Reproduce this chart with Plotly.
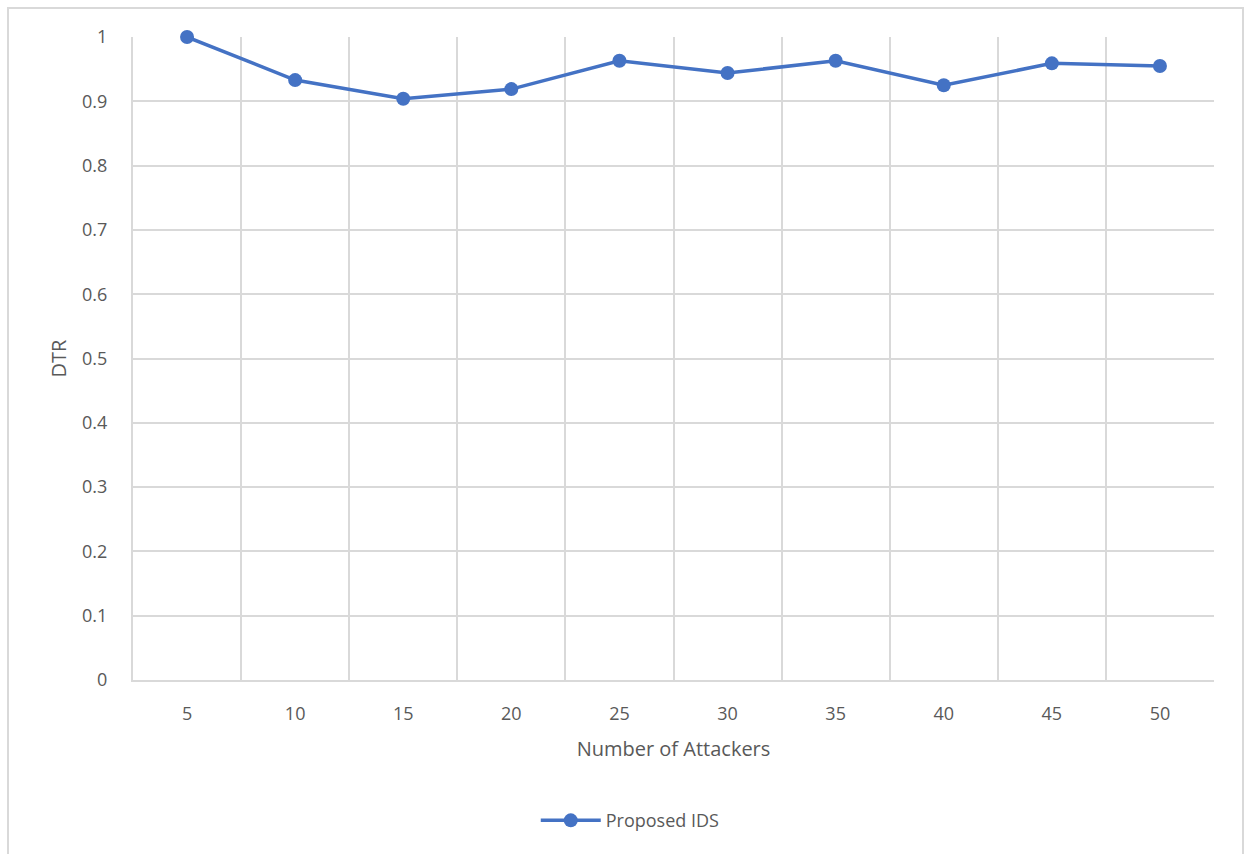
import plotly.graph_objects as go

# Detection rate of the proposed IDS versus number of attackers
attackers = [5, 10, 15, 20, 25, 30, 35, 40, 45, 50]
dtr = [1.0, 0.933, 0.904, 0.919, 0.963, 0.944, 0.963, 0.925, 0.959, 0.955]
y_ticks = [0, 0.1, 0.2, 0.3, 0.4, 0.5, 0.6, 0.7, 0.8, 0.9, 1]

BLUE = "#4472C4"
GRID = "#d9d9d9"
TEXT = "#595959"
FONT = "Open Sans"

fig = go.Figure()
fig.add_trace(go.Scatter(
    x=attackers, y=dtr, mode="lines+markers", name="Proposed IDS",
    line=dict(color=BLUE, width=3.5),
    marker=dict(color=BLUE, size=14),
    cliponaxis=False,
))

fig.update_layout(
    width=1244, height=854,
    margin=dict(l=133, r=30, t=37, b=174),
    paper_bgcolor="white", plot_bgcolor="white",
    font=dict(family=FONT, color=TEXT, size=18),
    showlegend=True,
    legend=dict(orientation="h", x=0.46, xanchor="center", y=-0.19, yanchor="top",
                font=dict(size=18, color=TEXT), itemwidth=60),
    xaxis=dict(
        range=[2.5, 52.5], tickvals=attackers, ticktext=[str(a) for a in attackers],
        showgrid=False, zeroline=False,
        showline=True, linecolor=GRID, linewidth=2,
        ticks="", ticklabelstandoff=16,
        minor=dict(tick0=2.5, dtick=5, showgrid=True, gridcolor=GRID, gridwidth=2),
        title=dict(text="Number of Attackers", font=dict(size=20, color=TEXT), standoff=18),
        fixedrange=True,
    ),
    yaxis=dict(
        range=[0, 1], tickvals=y_ticks, ticktext=[f"{v:g}" for v in y_ticks],
        showgrid=True, gridcolor=GRID, gridwidth=2, zeroline=False,
        showline=True, linecolor=GRID, linewidth=2, ticks="", ticklabelstandoff=20,
        title=dict(text="DTR", font=dict(size=20, color=TEXT), standoff=10),
        fixedrange=True,
    ),
    shapes=[dict(
        type="rect", xref="paper", yref="paper",
        x0=(8 - 133) / 1081, x1=(1243 - 133) / 1081,
        y0=(680 - 870) / 643, y1=(680 - 8) / 643,
        line=dict(color=GRID, width=2), fillcolor="rgba(0,0,0,0)", layer="below",
    )],
)

fig.write_html("out.html")
